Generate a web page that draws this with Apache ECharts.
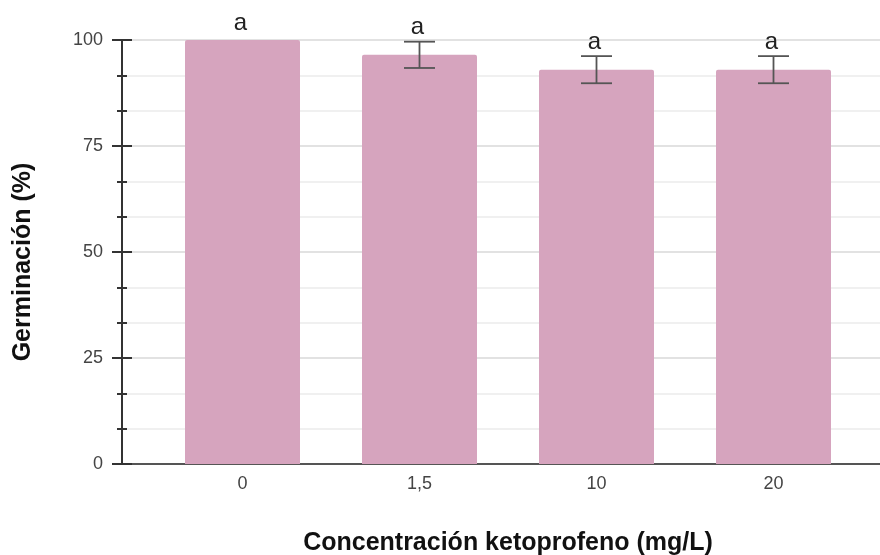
<!DOCTYPE html>
<html>
<head>
<meta charset="utf-8">
<script src="https://cdn.jsdelivr.net/npm/echarts@6/dist/echarts.min.js"></script>
<style>
html,body{margin:0;padding:0;background:#fff;}
#chart{width:880px;height:555px;}
</style>
</head>
<body>
<div id="chart"></div>
<script>
const categories = ['0', '1,5', '10', '20'];
const germination = [100, 96.5, 93.0, 93.0];
const errors = [0, 3.1, 3.2, 3.2];
const letters = ['a', 'a', 'a', 'a'];
const yTicks = { min: 0, max: 100, interval: 25 };

const FONT = '"Liberation Sans", Arial, Helvetica, sans-serif';
const chart = echarts.init(document.getElementById('chart'), null, { renderer: 'canvas' });

const errData = categories.map((c, i) => [i, germination[i], errors[i], letters[i]]);

const option = {
  animation: false,
  textStyle: { fontFamily: FONT },
  grid: [
    { left: 122, right: 0, top: 40, bottom: 91, outerBoundsMode: 'none', containLabel: false },
    { left: 154, right: 18, top: 40, bottom: 91, outerBoundsMode: 'none', containLabel: false }
  ],
  xAxis: [
    {
      gridIndex: 0, type: 'value', min: 0, max: 1,
      axisLine: { show: true, onZero: false, lineStyle: { color: '#555', width: 2 } },
      axisTick: { show: false }, axisLabel: { show: false }, splitLine: { show: false }
    },
    {
      gridIndex: 1, type: 'category', data: categories,
      axisLine: { show: false }, axisTick: { show: false },
      axisLabel: { color: '#444', fontSize: 18, margin: 11, fontFamily: FONT },
      name: 'Concentración ketoprofeno (mg/L)',
      nameLocation: 'middle', nameGap: 67,
      nameTextStyle: { color: '#111', fontSize: 25, fontWeight: 'bold', fontFamily: FONT }
    }
  ],
  yAxis: [
    {
      gridIndex: 0, type: 'value', position: 'left', min: yTicks.min, max: yTicks.max, interval: yTicks.interval,
      axisLine: { show: true, lineStyle: { color: '#333', width: 2 } },
      axisTick: { show: true, inside: false, length: 10, lineStyle: { color: '#333', width: 2 } },
      minorTick: { show: true, splitNumber: 3, length: 5, lineStyle: { color: '#333', width: 2 } },
      axisLabel: { color: '#444', fontSize: 18, margin: 19, fontFamily: FONT },
      splitLine: { show: true, lineStyle: { color: '#e2e2e2', width: 2 } },
      minorSplitLine: { show: true, lineStyle: { color: '#ececec', width: 1.5 } },
      name: 'Germinación (%)',
      nameLocation: 'middle', nameGap: 86, nameRotate: 90,
      nameTextStyle: { color: '#111', fontSize: 25, fontWeight: 'bold', fontFamily: FONT, padding: [0, 20, 0, 0] }
    },
    {
      gridIndex: 0, type: 'value', position: 'left', min: yTicks.min, max: yTicks.max, interval: yTicks.interval,
      axisLine: { show: false },
      axisTick: { show: true, inside: true, length: 10, lineStyle: { color: '#333', width: 2 } },
      minorTick: { show: true, splitNumber: 3, length: 5, lineStyle: { color: '#333', width: 2 } },
      axisLabel: { show: false }, splitLine: { show: false }
    },
    {
      gridIndex: 1, type: 'value', min: yTicks.min, max: yTicks.max, interval: yTicks.interval,
      show: false
    }
  ],
  series: [
    {
      type: 'bar', xAxisIndex: 1, yAxisIndex: 2, data: germination,
      barWidth: 115,
      itemStyle: { color: '#d6a4be', borderRadius: [2, 2, 0, 0] },
      z: 2
    },
    {
      type: 'custom', xAxisIndex: 1, yAxisIndex: 2, data: errData, z: 5,
      renderItem: function (params, api) {
        const i = api.value(0), v = api.value(1), e = api.value(2);
        const top = api.coord([i, v + e]);
        const bot = api.coord([i, v - e]);
        const hw = 15.5;
        const children = [];
        if (e > 0) {
          const st = { stroke: '#555', lineWidth: 1.8 };
          children.push({ type: 'line', shape: { x1: top[0], y1: top[1], x2: bot[0], y2: bot[1] }, style: st });
          children.push({ type: 'line', shape: { x1: top[0] - hw, y1: top[1], x2: top[0] + hw, y2: top[1] }, style: st });
          children.push({ type: 'line', shape: { x1: bot[0] - hw, y1: bot[1], x2: bot[0] + hw, y2: bot[1] }, style: st });
        }
        const gap = e > 0 ? 14 : 17;
        children.push({
          type: 'text',
          style: {
            x: top[0] - 2, y: top[1] - gap, text: letters[params.dataIndex],
            fill: '#222', font: '24px ' + FONT, textAlign: 'center', textVerticalAlign: 'middle'
          }
        });
        return { type: 'group', children: children };
      }
    }
  ]
};
chart.setOption(option);
</script>
</body>
</html>
